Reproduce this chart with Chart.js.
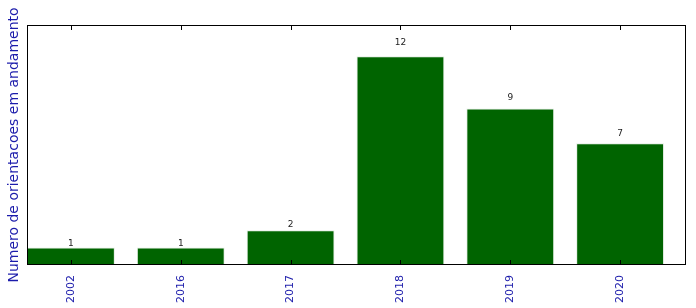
<!DOCTYPE html>
<html>
<head>
<meta charset="utf-8">
<script src="https://cdn.jsdelivr.net/npm/chart.js@4/dist/chart.umd.min.js"></script>
<style>
  html, body { margin: 0; padding: 0; background: #fff; }
  #wrap { width: 696px; height: 308px; }
</style>
</head>
<body>
<div id="wrap"><canvas id="myChart"></canvas></div>
<script>
const years = ['2002', '2016', '2017', '2018', '2019', '2020'];
const counts = [1, 1, 2, 12, 9, 7];
const yLabel = 'Numero de orientacoes em andamento';

const textBlue = '#1c1cab';

// ticks inside the frame + box + value labels, matplotlib style
const framePlugin = {
    id: 'frame',
    afterDraw(chart) {
        const ctx = chart.ctx;
        const a = chart.chartArea;
        const xs = chart.scales.x;
        const ys = chart.scales.y;
        ctx.save();
        ctx.strokeStyle = '#000';
        ctx.lineWidth = 1;
        ctx.strokeRect(Math.round(a.left) + 0.5, Math.round(a.top) + 0.5,
            Math.round(a.right - a.left) - 1, Math.round(a.bottom - a.top) - 1);
        ctx.beginPath();
        years.forEach((y, i) => {
            let px = Math.round(xs.getPixelForValue(i)) + 0.5;
            ctx.moveTo(px, a.bottom);
            ctx.lineTo(px, a.bottom - 5);
            ctx.moveTo(px, a.top);
            ctx.lineTo(px, a.top + 5);
        });
        ctx.stroke();

        ctx.fillStyle = '#222';
        ctx.font = '9px "DejaVu Sans"';
        ctx.textAlign = 'center';
        ctx.textBaseline = 'alphabetic';
        counts.forEach((v, i) => {
            ctx.fillText(String(v), xs.getPixelForValue(i), ys.getPixelForValue(v * 1.05) - 1);
        });
        ctx.restore();
    }
};

let data = {
    datasets: [{
        label: 'orientacoes',
        data: counts.map((v, i) => ({ x: i, y: v })),
        backgroundColor: '#006400',
        borderColor: '#e4eee4',
        borderWidth: 1,
        barPercentage: 0.8,
        categoryPercentage: 1
    }]
};

let config = {
    type: 'bar',
    data: data,
    options: {
        responsive: false,
        animation: false,
        layout: { padding: { top: 25, right: 10, left: 0, bottom: 0 } },
        plugins: { legend: { display: false }, tooltip: { enabled: false } },
        scales: {
            x: {
                type: 'linear',
                min: -0.4,
                max: 5.6,
                offset: false,
                grid: { display: false },
                border: { display: false },
                afterBuildTicks(scale) {
                    scale.ticks = years.map((y, i) => ({ value: i }));
                },
                afterFit(scale) { scale.height = 43; },
                ticks: {
                    autoSkip: false,
                    minRotation: 90,
                    maxRotation: 90,
                    padding: 2,
                    color: textBlue,
                    font: { family: 'DejaVu Sans', size: 11 },
                    callback: (v) => years[v]
                }
            },
            y: {
                min: 0,
                max: 13.8,
                grid: { display: false },
                border: { display: false },
                ticks: { display: false },
                afterFit(scale) { scale.width = 27; },
                title: {
                    display: true,
                    text: yLabel,
                    color: textBlue,
                    font: { family: 'DejaVu Sans', size: 14 },
                    padding: { top: 6, bottom: 0 }
                }
            }
        }
    },
    plugins: [framePlugin]
};

const cv = document.getElementById('myChart');
cv.width = 696;
cv.height = 308;
let myChart = new Chart(cv, config);
</script>
</body>
</html>
